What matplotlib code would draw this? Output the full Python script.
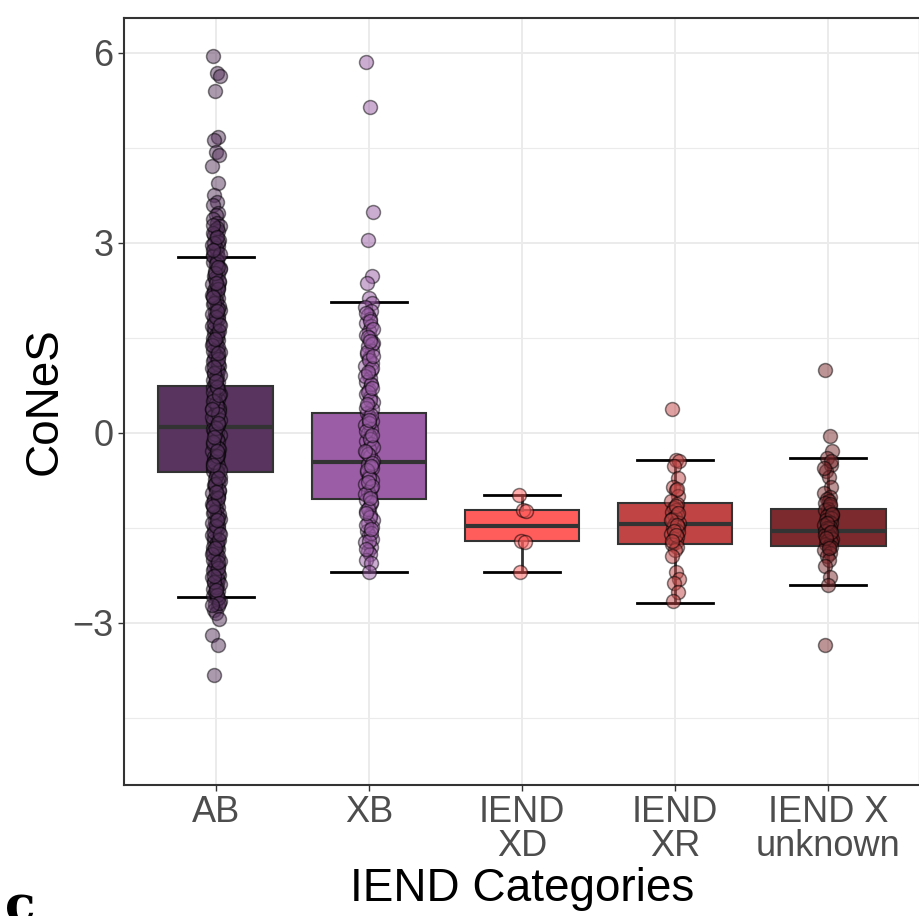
import matplotlib.pyplot as plt
from matplotlib.ticker import MultipleLocator

plt.rcParams['font.family'] = ['Liberation Sans', 'DejaVu Sans']

# categories and box statistics
categories = ['AB', 'XB', 'IEND\nXD', 'IEND\nXR', 'IEND X\nunknown']
colors = ['#58345F', '#9B5DA6', '#FF5C5C', '#C04444', '#7C2A2E']
q1 = [-0.62, -1.04, -1.715, -1.75, -1.78]
med = [0.10, -0.46, -1.47, -1.44, -1.55]
q3 = [0.74, 0.32, -1.225, -1.10, -1.21]
whislo = [-2.59, -2.19, -2.19, -2.68, -2.40]
whishi = [2.78, 2.07, -0.98, -0.43, -0.40]

# individual CoNeS values per category
ab_vals = [5.95, 5.68, 5.63, 5.39, 4.67, 4.63, 4.44, 4.39, 4.22, 3.94, 3.76,
           3.65, 3.60, 3.47, 3.44, 3.38,
           3.31, 3.27, 3.21, 3.18, 3.12, 3.07, 3.04, 2.97, 2.95, 2.89, 2.86,
           2.81, 2.77, 2.74, 2.69, 2.64, 2.61, 2.56, 2.51, 2.48, 2.42, 2.38,
           2.35, 2.29, 2.26, 2.21, 2.16, 2.13, 2.07, 2.04, 1.99, 1.94, 1.91,
           1.85, 1.82, 1.77, 1.72, 1.69, 1.63, 1.60, 1.55, 1.50, 1.47, 1.41,
           1.38, 1.33, 1.28, 1.25, 1.19, 1.16, 1.11, 1.06, 1.03, 0.97, 0.94,
           0.89, 0.84, 0.81, 0.75, 0.72, 0.67, 0.62, 0.59, 0.53, 0.50, 0.45,
           0.40, 0.37, 0.31, 0.28, 0.23, 0.18, 0.15, 0.09, 0.06, 0.01, -0.04,
           -0.07, -0.13, -0.16, -0.21, -0.26, -0.29, -0.35, -0.38, -0.43,
           -0.48, -0.51, -0.57, -0.60, -0.65, -0.70, -0.73, -0.79, -0.82,
           -0.87, -0.92, -0.95, -1.01, -1.04, -1.09, -1.14, -1.17, -1.23,
           -1.26, -1.31, -1.36, -1.39, -1.45, -1.48, -1.53, -1.58, -1.61,
           -1.67, -1.70, -1.75, -1.80, -1.83, -1.89, -1.92, -1.97, -2.02,
           -2.05, -2.11, -2.14, -2.19, -2.24, -2.27, -2.33, -2.36, -2.41,
           -2.46, -2.49, -2.54, -2.57, -2.62, -2.66, -2.70, -2.74, -2.79,
           -2.85, -2.94, -3.19, -3.35, -3.82,
           # second and third passes through the dense core of the column
           3.24, 3.15, 3.01, 2.92, 2.79, 2.71, 2.58, 2.45, 2.32, 2.23, 2.10,
           2.01, 1.88, 1.79, 1.66, 1.57, 1.44, 1.35, 1.22, 1.13, 1.00, 0.91,
           0.78, 0.69, 0.56, 0.47, 0.34, 0.25, 0.12, 0.03, -0.10, -0.18,
           -0.32, -0.40, -0.54, -0.62, -0.76, -0.84, -0.98, -1.06, -1.20,
           -1.28, -1.42, -1.50, -1.64, -1.72, -1.86, -1.94, -2.08, -2.16,
           -2.30, -2.38, -2.52, -2.60, 2.99, 2.66, 2.40, 2.18, 1.96, 1.74,
           1.52, 1.30, 1.08, 0.86, 0.64, 0.42, 0.20, -0.02, -0.24, -0.46,
           -0.68, -0.90, -1.12, -1.34, -1.56, -1.78, -2.00, -2.22, -2.44,
           3.28, 3.09, 2.83, 2.53, 2.27, 2.05, 1.83, 1.61, 1.39, 1.17, 0.95,
           0.73, 0.51, 0.29, 0.07, -0.15, -0.37, -0.59, -0.81, -1.03, -1.25,
           -1.47, -1.69, -1.91, -2.13, -2.35, -2.56, 2.88, 2.62, 2.36, 2.14,
           1.92, 1.70, 1.48, 1.26, 1.04, 0.82, 0.60, 0.38, 0.16, -0.06,
           -0.28, -0.50, -0.72, -0.94, -1.16, -1.38, -1.60, -1.82, -2.04,
           -2.26, -2.48, -2.68, -2.72]
xb_vals = [5.85, 5.15, 3.48, 3.05, 2.47, 2.37, 2.13, 2.05, 1.98, 1.92, 1.86,
           1.80, 1.73, 1.68, 1.61, 1.55, 1.49, 1.42, 1.37, 1.30, 1.24, 1.18,
           1.11, 1.06, 0.99, 0.93, 0.87, 0.80, 0.75, 0.68, 0.62, 0.56, 0.49,
           0.44, 0.37, 0.31, 0.25, 0.18, 0.13, 0.06, 0.00, -0.06, -0.13,
           -0.18, -0.25, -0.31, -0.37, -0.44, -0.49, -0.56, -0.62, -0.68,
           -0.75, -0.80, -0.87, -0.93, -0.99, -1.06, -1.11, -1.18, -1.24,
           -1.30, -1.37, -1.42, -1.49, -1.55, -1.61, -1.68, -1.73, -1.80,
           -1.86, -1.92, -2.00, -2.05, -2.19,
           1.89, 1.76, 1.64, 1.52, 1.40, 1.27, 1.15, 1.02, 0.90, 0.77, 0.65,
           0.52, 0.40, 0.28, 0.15, 0.03, -0.09, -0.22, -0.34, -0.47, -0.59,
           -0.71, -0.84, -0.96, -1.09, -1.21, -1.33, -1.46, -1.58, -1.70,
           -1.83, 1.45, 1.21, 0.96, 0.71, 0.46, 0.21, -0.03, -0.28, -0.53,
           -0.78, -1.03, -1.27, -1.52]
xd_vals = [-0.98, -1.22, -1.24, -1.70, -1.72, -2.19]
xr_vals = [0.38, -0.43, -0.45, -0.52, -0.71, -0.85, -0.90, -1.00, -1.08,
           -1.12, -1.18, -1.22, -1.25, -1.30, -1.33, -1.36, -1.40, -1.42,
           -1.45, -1.48, -1.50, -1.53, -1.57, -1.60, -1.64, -1.68, -1.72,
           -1.76, -1.80, -1.85, -1.95, -2.19, -2.30, -2.37, -2.51, -2.66,
           -1.15, -1.27, -1.38, -1.46, -1.55, -1.62, -1.70, -0.88]
unk_vals = [1.00, -0.05, -0.28, -0.40, -0.50, -0.60, -0.70, -0.85, -0.95,
            -1.02, -1.05, -1.08, -1.10, -1.15, -1.20, -1.22, -1.25, -1.30,
            -1.32, -1.35, -1.38, -1.40, -1.42, -1.45, -1.48, -1.50, -1.52,
            -1.55, -1.58, -1.60, -1.62, -1.65, -1.68, -1.70, -1.72, -1.75,
            -1.78, -1.80, -1.85, -1.90, -1.95, -2.00, -2.10, -2.27, -2.40,
            -3.35, -1.12, -1.28, -1.43, -1.56, -1.66, -1.82, -0.45, -0.55]
groups = [ab_vals, xb_vals, xd_vals, xr_vals, unk_vals]

# small fixed horizontal jitter, cycled over the points
JITTER = [-0.021, 0.009, 0.024, -0.005, 0.017, -0.014, 0.003, 0.021,
          -0.024, 0.012, -0.009, 0.006, -0.018, 0.015, -0.001]

fig = plt.figure(figsize=(9.2, 9.16), dpi=100)
ax = fig.add_axes([124 / 920, 1 - 785 / 916, 796 / 920, 767 / 916])

positions = list(range(1, len(categories) + 1))
stats = []
for i in range(len(categories)):
    stats.append({'q1': q1[i], 'med': med[i], 'q3': q3[i],
                  'whislo': whislo[i], 'whishi': whishi[i], 'fliers': []})

bp = ax.bxp(stats, positions=positions, widths=0.75, capwidths=0.5,
            patch_artist=True, showfliers=False, manage_ticks=False,
            boxprops=dict(edgecolor='#333333', linewidth=1.5),
            medianprops=dict(color='#333333', linewidth=3),
            whiskerprops=dict(color='#333333', linewidth=2),
            capprops=dict(color='black', linewidth=2))
for patch, c in zip(bp['boxes'], colors):
    patch.set_facecolor(c)
for art in bp['boxes'] + bp['medians'] + bp['whiskers'] + bp['caps']:
    art.set_zorder(2)

for pos, vals, c in zip(positions, groups, colors):
    xs = [pos + JITTER[k % len(JITTER)] for k in range(len(vals))]
    ax.scatter(xs, vals, s=100, facecolor=c, edgecolor='black', alpha=0.5,
               linewidths=1.1, zorder=3)

ax.set_xlim(0.4, 5.6)
ax.set_ylim(-5.56, 6.55)
ax.set_xticks(positions)
ax.set_xticklabels(categories, linespacing=0.95)
ax.yaxis.set_minor_locator(MultipleLocator(1.5))
ax.set_yticks([-3, 0, 3, 6])
ax.set_yticklabels(['\u22123', '0', '3', '6'])

ax.grid(True, which='major', color='#EBEBEB', linewidth=1.4, zorder=0)
ax.grid(True, which='minor', axis='y', color='#EBEBEB', linewidth=0.8, zorder=0)
ax.set_axisbelow(True)

ax.tick_params(axis='both', which='major', labelsize=26, labelcolor='#4D4D4D',
               color='#333333', length=4, width=1)
ax.tick_params(axis='y', which='minor', length=0)
for sp in ax.spines.values():
    sp.set_color('#333333')
    sp.set_linewidth(1.5)

ax.set_ylabel('CoNeS', fontsize=33, color='black')
ax.yaxis.set_label_coords(-0.072, 0.5)
ax.set_xlabel('IEND Categories', fontsize=33, color='black', labelpad=2)

# panel letter, partly cut off at the bottom edge as in the reference
fig.text(5 / 920, -5 / 916, 'c', fontsize=36, fontweight='bold',
         family='DejaVu Serif', ha='left', va='baseline')

fig.savefig('out.png', dpi=100)
